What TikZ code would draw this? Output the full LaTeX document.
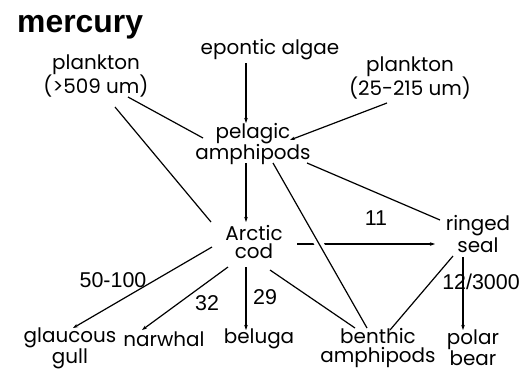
\documentclass[tikz,border=0pt]{standalone}
\usepackage{fontspec}
\setmainfont{Poppins}
\newfontfamily\cifras{Liberation Sans}
\usetikzlibrary{arrows.meta}
\begin{document}
\begin{tikzpicture}[x=1bp,y=-1bp,
   especie/.style={align=center,inner sep=0pt,font=\fontsize{20}{19}\selectfont},
   dato/.style={inner sep=0pt,font=\cifras\fontsize{21.5}{21.5}\selectfont},
   flujo/.style={line width=1.2bp,-{Stealth[length=5bp,width=3.5bp]}},
   enlace/.style={line width=1.2bp}]
  \useasboundingbox[fill=white] (0,0) rectangle (524,374);
  % titulo
  \node[anchor=base west,inner sep=0pt,font=\cifras\bfseries\fontsize{32}{32}\selectfont] (titulo) at (17,32) {mercury};
  % especies
  \node[especie] (epontic) at (270,50) {epontic algae};
  \node[especie] (plankA)  at (96,76)  {plankton\\(>509 um)};
  \node[especie] (plankB)  at (410,78) {plankton\\(25-215 um)};
  \node[especie] (pelagic) at (253,144) {pelagic\\amphipods};
  \node[especie] (cod)     at (254,242) {Arctic\\cod};
  \node[especie] (seal)    at (478,234) {ringed\\seal};
  \node[especie] (gull)    at (70,348)  {glaucous\\gull};
  \node[especie] (narwhal) at (164,339) {narwhal};
  \node[especie] (beluga)  at (259,339) {beluga};
  \node[especie] (benthic) at (378,348) {benthic\\amphipods};
  \node[especie] (bear)    at (473,348) {polar\\bear};
  % enlaces
  \draw[flujo]  ([shift={(-24,13)}]epontic.center) -- ([shift={(-7,-21)}]pelagic.center);
  \draw[enlace] ([shift={(32,21)}]plankA.center) -- ([shift={(-50,-6)}]pelagic.center);
  \draw[enlace] ([shift={(19,31)}]plankA.center) -- ([shift={(-43,-20)}]cod.center);
  \draw[flujo]  ([shift={(-23,25)}]plankB.center) -- ([shift={(37,-4)}]pelagic.center);
  \draw[flujo]  ([shift={(-7,19)}]pelagic.center) -- ([shift={(-8,-20)}]cod.center);
  \draw[enlace] ([shift={(54,19)}]pelagic.center) -- ([shift={(-38,-14)}]seal.center);
  \draw[flujo]  ([shift={(43,2)}]cod.center) -- ([shift={(-43,10)}]seal.center);
  \draw[enlace,preaction={draw,white,line width=9bp}]
    ([shift={(20,19)}]pelagic.center) -- ([shift={(-11,-20)}]benthic.center);
  \draw[flujo]  ([shift={(-42,5)}]cod.center) -- ([shift={(3,-20)}]gull.center);
  \draw[flujo]  ([shift={(-26,25)}]cod.center) -- ([shift={(-22,-9)}]narwhal.center);
  \draw[flujo]  ([shift={(-8,25)}]cod.center) -- ([shift={(-13,-9)}]beluga.center);
  \draw[enlace] ([shift={(16,28)}]cod.center) -- ([shift={(-23,-20)}]benthic.center);
  \draw[enlace] ([shift={(-25,22)}]seal.center) -- ([shift={(12,-18)}]benthic.center);
  \draw[flujo]  ([shift={(-15,23)}]seal.center) -- ([shift={(-10,-18)}]bear.center);
  % valores
  \node[dato] (v50)   at (113,280) {50-100};
  \node[dato] (v32)   at (207,303) {32};
  \node[dato] (v29)   at (265,297) {29};
  \node[dato] (v11)   at (376,218) {11};
  \node[dato] (v12)   at (481,282) {12/3000};
\end{tikzpicture}
\end{document}
